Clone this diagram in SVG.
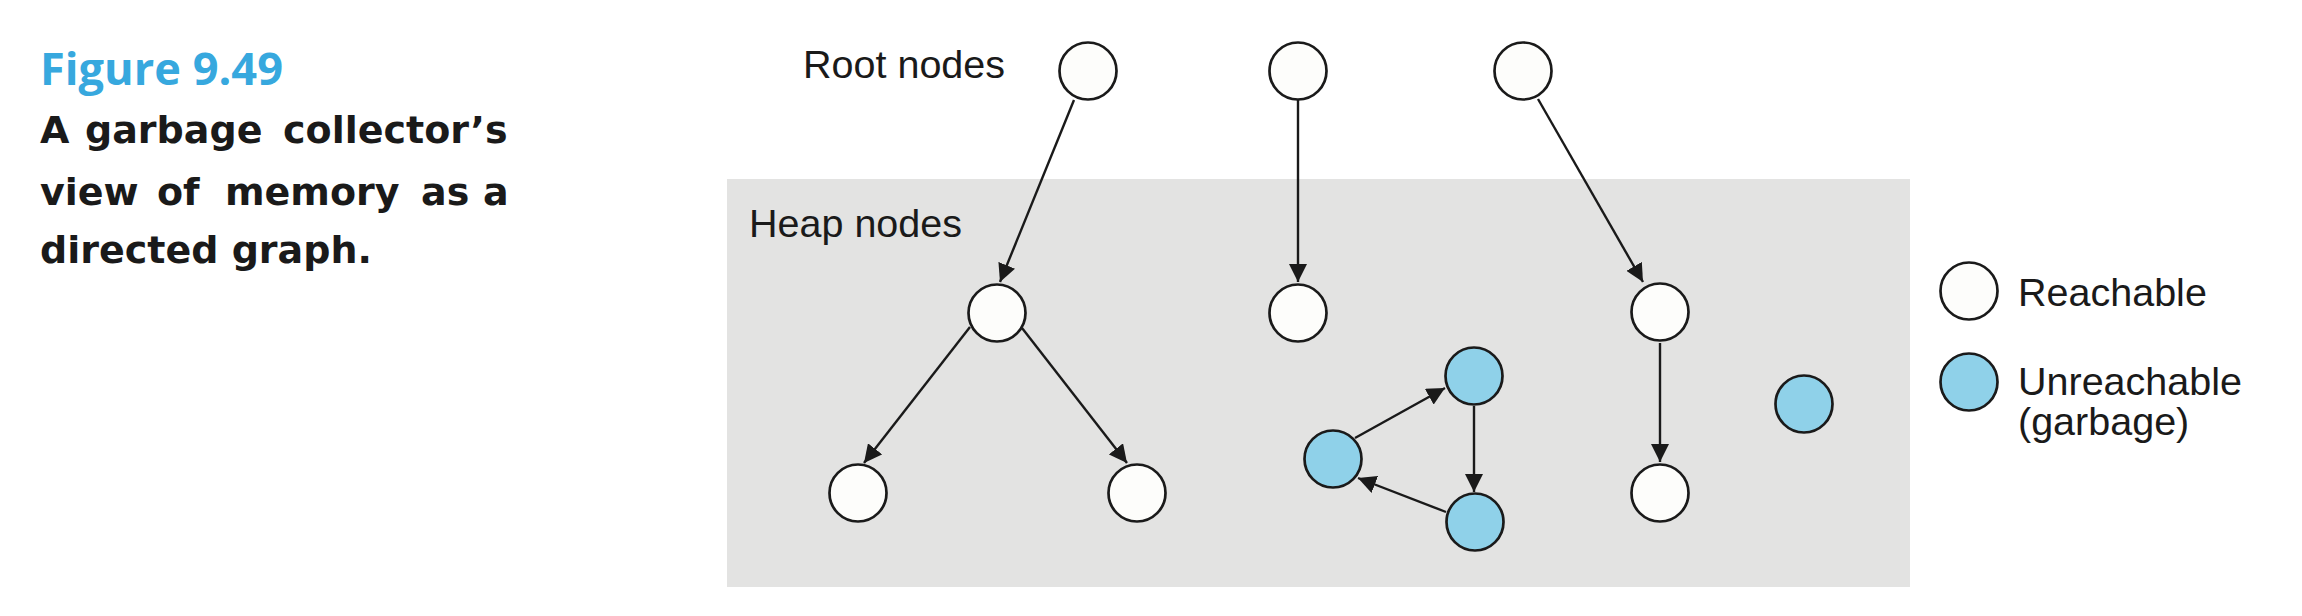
<svg xmlns="http://www.w3.org/2000/svg" width="2302" height="616" viewBox="0 0 2302 616">
  <style>
    .caption { font-family: "DejaVu Sans", sans-serif; font-weight: 700; font-size: 38px; fill: #1a1a1a; }
    .title { font-family: "Open Sans", "DejaVu Sans", sans-serif; font-weight: 700; font-size: 44px; fill: #37a8de; }
    .label { font-family: "Liberation Sans", Arial, sans-serif; font-size: 39.5px; fill: #1a1a1a; }
    .reach { fill: #fdfdfb; stroke: #1a1a1a; stroke-width: 2.7; }
    .garb { fill: #8fd1e9; stroke: #1a1a1a; stroke-width: 2.7; }
    .edge { stroke: #1a1a1a; stroke-width: 2.4; fill: none; marker-end: url(#arrow); }
  </style>
  <defs>
    <marker id="arrow" viewBox="0 0 18 18" refX="18" refY="9" markerWidth="18" markerHeight="18" markerUnits="userSpaceOnUse" orient="auto">
      <path d="M0,0 L18,9 L0,18 z" fill="#1a1a1a"/>
    </marker>
  </defs>
  <rect width="2302" height="616" fill="#ffffff"/>

  <g id="caption">
    <text class="title" x="40" y="85" textLength="243" lengthAdjust="spacingAndGlyphs">Figure 9.49</text>
    <text class="caption" y="143"><tspan x="40">A</tspan><tspan x="85">garbage</tspan><tspan x="283">collector’s</tspan></text>
    <text class="caption" y="205"><tspan x="40">view</tspan><tspan x="157">of</tspan><tspan x="225">memory</tspan><tspan x="421">as</tspan><tspan x="483">a</tspan></text>
    <text class="caption" x="40" y="263">directed graph.</text>
  </g>

  <g id="heap">
    <rect x="727" y="179" width="1183" height="408" fill="#e3e3e2"/>
    <text class="label" x="749" y="237">Heap nodes</text>
  </g>

  <g id="root-label">
    <text class="label" x="803" y="78">Root nodes</text>
  </g>

  <g id="connectors">
    <line class="edge" x1="1074" y1="100" x2="1000" y2="282"/>
    <line class="edge" x1="1298" y1="100" x2="1298" y2="282"/>
    <line class="edge" x1="1538" y1="99" x2="1643" y2="282"/>
    <line class="edge" x1="970" y1="327" x2="864" y2="463"/>
    <line class="edge" x1="1022" y1="328" x2="1127" y2="463"/>
    <line class="edge" x1="1355" y1="438" x2="1445" y2="388"/>
    <line class="edge" x1="1474" y1="406" x2="1474" y2="492"/>
    <line class="edge" x1="1446" y1="512" x2="1358" y2="478"/>
    <line class="edge" x1="1660" y1="343" x2="1660" y2="462"/>
  </g>

  <g id="root1"><circle class="reach" cx="1088" cy="71" r="28.5"/></g>
  <g id="root2"><circle class="reach" cx="1298" cy="71" r="28.5"/></g>
  <g id="root3"><circle class="reach" cx="1523" cy="71" r="28.5"/></g>

  <g id="heapA"><circle class="reach" cx="997" cy="313" r="28.5"/></g>
  <g id="heapB"><circle class="reach" cx="1298" cy="313" r="28.5"/></g>
  <g id="heapC"><circle class="reach" cx="1660" cy="312" r="28.5"/></g>
  <g id="heapD"><circle class="reach" cx="858" cy="493" r="28.5"/></g>
  <g id="heapE"><circle class="reach" cx="1137" cy="493" r="28.5"/></g>
  <g id="heapJ"><circle class="reach" cx="1660" cy="493" r="28.5"/></g>

  <g id="garbF"><circle class="garb" cx="1474" cy="376" r="28.5"/></g>
  <g id="garbG"><circle class="garb" cx="1333" cy="459" r="28.5"/></g>
  <g id="garbH"><circle class="garb" cx="1475" cy="522" r="28.5"/></g>
  <g id="garbI"><circle class="garb" cx="1804" cy="404" r="28.5"/></g>

  <g id="legend-reachable">
    <circle class="reach" cx="1969" cy="291" r="28.5"/>
    <text class="label" x="2018" y="306">Reachable</text>
  </g>
  <g id="legend-unreachable">
    <circle class="garb" cx="1969" cy="382" r="28.5"/>
    <text class="label" x="2018" y="395">Unreachable</text>
    <text class="label" x="2018" y="435">(garbage)</text>
  </g>
</svg>
